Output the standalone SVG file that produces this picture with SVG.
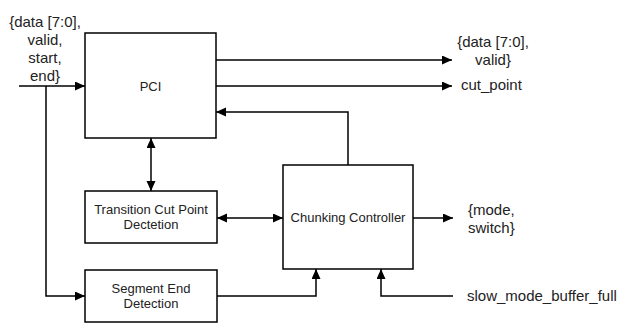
<svg xmlns="http://www.w3.org/2000/svg" width="624" height="323" viewBox="0 0 624 323">
<style>
.box{fill:#fff;stroke:#000;stroke-width:1.5}
.e{fill:none;stroke:#000;stroke-width:1.5}
.t{font-family:"Liberation Sans",Arial,sans-serif;font-size:13px;fill:#222;text-anchor:middle}
.l{font-family:"Liberation Sans",Arial,sans-serif;font-size:15px;fill:#222}
</style>
<defs>
<marker id="a" markerUnits="userSpaceOnUse" markerWidth="11" markerHeight="10" refX="10" refY="4.5" orient="auto-start-reverse"><path d="M0,0 L10,4.5 L0,9 Z" fill="#000"/></marker>
</defs>
<rect width="624" height="323" fill="#fff"/>
<g id="connectors">
<path class="e" d="M19,86 H85" marker-end="url(#a)"/>
<path class="e" d="M46,86 V296 H85" marker-end="url(#a)"/>
<path class="e" d="M216,60 H452" marker-end="url(#a)"/>
<path class="e" d="M216,86 H452" marker-end="url(#a)"/>
<path class="e" d="M348,165 V112 H216" marker-end="url(#a)"/>
<path class="e" d="M151,138 V191" marker-start="url(#a)" marker-end="url(#a)"/>
<path class="e" d="M217,218 H283" marker-start="url(#a)" marker-end="url(#a)"/>
<path class="e" d="M217,296 H316 V269" marker-end="url(#a)"/>
<path class="e" d="M413,218 H453" marker-end="url(#a)"/>
<path class="e" d="M453,296 H381 V269" marker-end="url(#a)"/>
</g>
<g id="pci"><rect class="box" x="85" y="33" width="131" height="105"/><text class="t" x="150.5" y="91">PCI</text></g>
<g id="tcp"><rect class="box" x="85" y="191" width="132" height="52"/><text class="t" x="151" y="214">Transition Cut Point</text><text class="t" x="151" y="229">Dectetion</text></g>
<g id="sed"><rect class="box" x="85" y="270" width="132" height="52"/><text class="t" x="151" y="293">Segment End</text><text class="t" x="151" y="308">Detection</text></g>
<g id="cc"><rect class="box" x="283" y="165" width="130" height="104"/><text class="t" x="348" y="222">Chunking Controller</text></g>
<g id="labels">
<text class="l" text-anchor="middle"><tspan x="45" y="27">{data [7:0],</tspan><tspan x="45" y="45">valid,</tspan><tspan x="45" y="63">start,</tspan><tspan x="45" y="81">end}</tspan></text>
<text class="l" text-anchor="middle"><tspan x="493" y="47">{data [7:0],</tspan><tspan x="493" y="65">valid}</tspan></text>
<text class="l" x="461" y="90">cut_point</text>
<text class="l"><tspan x="468" y="215">{mode,</tspan><tspan x="468" y="233">switch}</tspan></text>
<text class="l" x="467" y="301">slow_mode_buffer_full</text>
</g>
</svg>
